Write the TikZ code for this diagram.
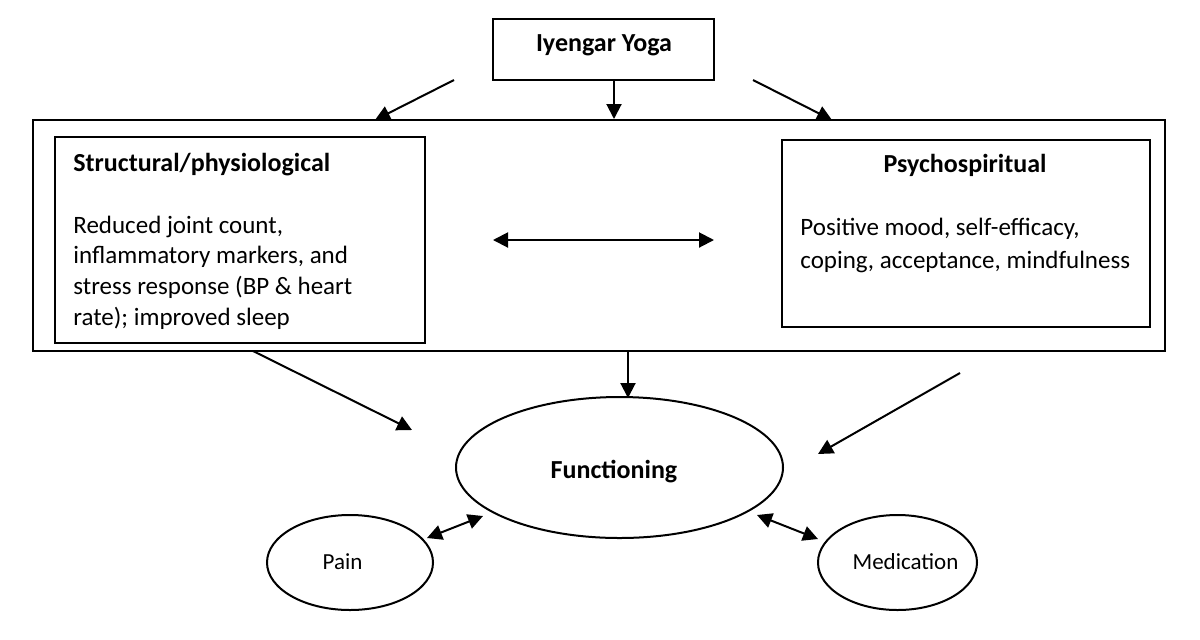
\documentclass[tikz,border=0pt]{standalone}
\usepackage{fontspec}
\setmainfont{Carlito}
\usetikzlibrary{arrows.meta, shapes.geometric}
\tikzset{
    concept box/.style={draw=black, line width=1pt, rectangle, inner sep=0pt},
    concept oval/.style={draw=black, line width=1pt, ellipse, inner sep=0pt},
    flow arrow/.style={line width=1pt, -{Triangle[length=7.5pt, width=7.5pt]}},
    two way arrow/.style={line width=1pt, {Triangle[length=7.5pt, width=7.5pt]}-{Triangle[length=7.5pt, width=7.5pt]}},
    body text/.style={font=\fontsize{12.5}{15.3}\selectfont, inner sep=0pt, align=left},
    head text/.style={font=\fontsize{13}{15}\selectfont\bfseries, inner sep=0pt},
    small text/.style={font=\fontsize{11.5}{14}\selectfont, inner sep=0pt}
}

\begin{document}
\begin{tikzpicture}[x=0.5pt, y=-0.5pt]

\useasboundingbox (0,0) rectangle (1200,639);

% Cajas principales.
\node[concept box, minimum width=110.5pt, minimum height=30.5pt] (YogaBox) at (603.5,49.5) {};
\node[concept box, minimum width=566pt, minimum height=115.5pt] (OuterBox) at (599,235.5) {};
\node[concept box, minimum width=185pt, minimum height=103pt] (StructuralBox) at (240,240) {};
\node[concept box, minimum width=184pt, minimum height=93.5pt] (PsychoBox) at (966,233.5) {};

% Textos de las cajas.
\node[head text] (YogaLabel) at (604,45) {Iyengar Yoga};
\node[head text, anchor=west] (StructuralHead) at (73,165) {Structural/physiological};
\node[body text, anchor=west] (StructuralText) at (73,272.5) {Reduced joint count,\\inflammatory markers, and\\stress response (BP \& heart\\rate); improved sleep};
\node[head text] (PsychoHead) at (965,165) {Psychospiritual};
\node[body text, anchor=west, font=\fontsize{12.5}{16.5}\selectfont] (PsychoText) at (800,245) {Positive mood, self-efficacy,\\coping, acceptance, mindfulness};

% Elipses de resultados.
\node[concept oval, minimum width=163.5pt, minimum height=70.5pt] (Functioning) at (619.5,467.5) {};
\node[concept oval, minimum width=83pt, minimum height=47.5pt] (Pain) at (350,562.5) {};
\node[concept oval, minimum width=79.5pt, minimum height=47.5pt] (Medication) at (897.5,562.5) {};
\node[head text] (FunctioningLabel) at (614,472) {Functioning};
\node[small text] (PainLabel) at (342.5,562) {Pain};
\node[small text] (MedicationLabel) at (905.5,562) {Medication};

% Puntos sueltos de las flechas.
\coordinate (YogaLeft) at (454,80);
\coordinate (YogaRight) at (753,80);
\coordinate (OuterLeftIn) at (375,120);
\coordinate (OuterRightIn) at (832,120);
\coordinate (OuterLeftOut) at (253,351);
\coordinate (OuterRightOut) at (960,373);
\coordinate (FunctioningLeftIn) at (412,430);
\coordinate (FunctioningRightIn) at (818,454);
\coordinate (MiddleLeft) at (493,240);
\coordinate (MiddleRight) at (714,240);
\coordinate (PainTip) at (427,538);
\coordinate (FunctioningPainTip) at (483,516);
\coordinate (FunctioningMedTip) at (757,515);
\coordinate (MedicationTip) at (818,539);

% Flechas desde el yoga.
\draw[flow arrow] (YogaLeft) -- (OuterLeftIn);
\draw[flow arrow] (YogaBox.south -| 614,0) -- (OuterBox.north -| 614,0);
\draw[flow arrow] (YogaRight) -- (OuterRightIn);

% Flecha entre los dos grupos.
\draw[two way arrow] (MiddleLeft) -- (MiddleRight);

% Flechas hacia el funcionamiento.
\draw[flow arrow] (OuterLeftOut) -- (FunctioningLeftIn);
\draw[flow arrow] (OuterBox.south -| 628,0) -- (628,398);
\draw[flow arrow] (OuterRightOut) -- (FunctioningRightIn);

% Dolor y medicación.
\draw[two way arrow] (PainTip) -- (FunctioningPainTip);
\draw[two way arrow] (FunctioningMedTip) -- (MedicationTip);

\end{tikzpicture}
\end{document}
